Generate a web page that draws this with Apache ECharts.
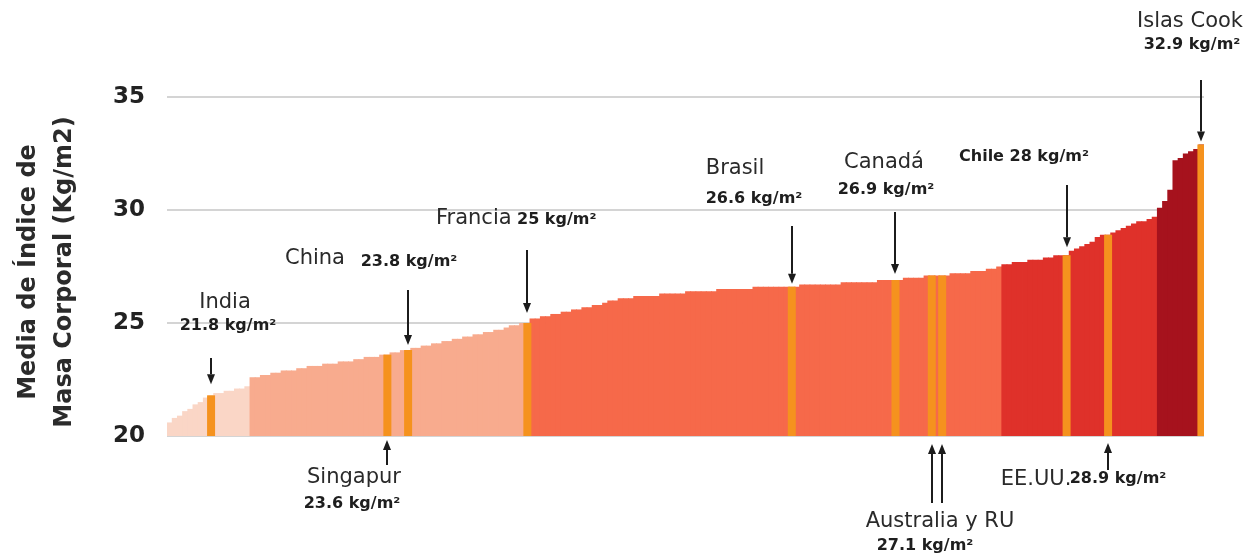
<!DOCTYPE html>
<html>
<head>
<meta charset="utf-8">
<title>Media de IMC por país</title>
<script src="https://cdn.jsdelivr.net/npm/echarts@6/dist/echarts.min.js"></script>
<style>
html,body{margin:0;padding:0;background:#fff;}
#chart1{width:1255px;height:556px;}
</style>
</head>
<body>
<div id="chart1"></div>
<script>
// IMC medio por país, ordenado de menor a mayor (200 países)
var bmi = [
    20.6,20.8,20.9,21.1,21.2,21.4,21.5,21.7,21.8,21.9,21.9,22.0,22.0,22.1,22.1,22.2,
    22.6,22.6,22.7,22.7,22.8,22.8,22.9,22.9,22.9,23.0,
    23.0,23.1,23.1,23.1,23.2,23.2,23.2,23.3,23.3,23.3,
    23.4,23.4,23.5,23.5,23.5,23.6,23.6,23.7,23.7,23.8,
    23.8,23.9,23.9,24.0,24.0,24.1,24.1,24.2,24.2,24.3,
    24.3,24.4,24.4,24.5,24.5,24.6,24.6,24.7,24.7,24.8,
    24.9,24.9,25.0,
    25.0,
    25.2,25.2,25.3,25.3,25.4,25.4,25.5,25.5,25.6,25.6,
    25.7,25.7,25.8,25.8,25.9,26.0,26.0,26.1,26.1,26.1,
    26.2,26.2,26.2,26.2,26.2,26.3,26.3,26.3,26.3,26.3,
    26.4,26.4,26.4,26.4,26.4,26.4,26.5,26.5,26.5,26.5,
    26.5,26.5,26.5,26.6,26.6,26.6,26.6,26.6,26.6,26.6,
    26.6,26.6,26.7,26.7,26.7,26.7,26.7,26.7,26.7,26.7,
    26.8,26.8,26.8,26.8,26.8,26.8,26.8,26.9,26.9,26.9,
    26.9,26.9,27.0,27.0,27.0,27.0,27.1,27.1,27.1,27.1,
    27.1,27.2,27.2,27.2,27.2,27.3,27.3,27.3,27.4,27.4,27.5,
    27.6,27.6,27.7,27.7,27.7,27.8,27.8,27.8,27.9,27.9,
    28.0,28.0,28.0,28.2,28.3,28.4,28.5,28.6,28.8,28.9,
    28.9,29.0,29.1,29.2,29.3,29.4,29.5,29.5,29.6,29.7,
    30.1,30.4,30.9,32.2,32.3,32.5,32.6,32.7,32.9
];
var ranks = bmi.map(function(v, i){ return String(i + 1); });

// tramos de color: primer y último índice de cada tramo
var bandStart = [0, 16, 69, 161, 191];
var bandEnd   = [15, 68, 160, 190, 199];
var bandColor = ['#fad6c6', '#f8ab8e', '#f6694a', '#df312a', '#a6121d'];

// países destacados (índice en la lista ordenada)
var markIdx = [8, 42, 46, 69, 120, 140, 147, 149, 173, 181, 199];
var yTicks = [20, 25, 30, 35];

// flechas: índice, dirección (1 = hacia abajo, -1 = hacia arriba), extremo fijo, separación
var arrows = [
    [8, 1, 358, 11], [46, 1, 290, 5], [69, 1, 250, 10], [120, 1, 226, 3],
    [140, 1, 212, 6], [173, 1, 185, 8], [199, 1, 80, 3],
    [42, -1, 465, 4], [147, -1, 503, 8], [149, -1, 503, 8], [181, -1, 470, 7]
];
// textos: texto, x, y, tipo (n = nombre, v = valor, b = ambos en negrita), alineación
var labels = [
    ['India', 225, 303, 'n'], ['21.8 kg/m²', 228, 326, 'v'],
    ['China', 315, 259, 'n'], ['23.8 kg/m²', 409, 262, 'v'],
    ['Francia', 436, 219, 'n', 'left'], ['25 kg/m²', 517, 220, 'v', 'left'],
    ['Brasil', 735, 169, 'n'], ['26.6 kg/m²', 754, 199, 'v'],
    ['Canadá', 884, 163, 'n'], ['26.9 kg/m²', 886, 190, 'v'],
    ['Chile 28 kg/m²', 1024, 157, 'v'],
    ['Islas Cook', 1190, 22, 'n'], ['32.9 kg/m²', 1192, 45, 'v'],
    ['Singapur', 354, 478, 'n'], ['23.6 kg/m²', 352, 504, 'v'],
    ['Australia y RU', 940, 522, 'n'], ['27.1 kg/m²', 925, 546, 'v'],
    ['EE.UU.', 1036, 480, 'n'], ['28.9 kg/m²', 1118, 479, 'v']
];

function bandColorOf(i){
    for (var b = 0; b < bandStart.length; b++) {
        if (i >= bandStart[b] && i <= bandEnd[b]) return bandColor[b];
    }
    return bandColor[0];
}

var myChart = {
    init:function(){
        var chart = echarts.init(document.getElementById('chart1'));
        var option = {
            animation: false,
            grid: {left: 167, right: 51, top: 97, bottom: 120},
            xAxis: [
                {type: 'category', data: ranks, axisLine: {show: false}, axisTick: {show: false}, axisLabel: {show: false}},
                {type: 'category', data: ranks, show: false}
            ],
            yAxis: {
                type: 'value',
                min: yTicks[0],
                max: yTicks[yTicks.length - 1],
                interval: 5,
                axisLine: {show: false},
                axisTick: {show: false},
                axisLabel: {
                    fontFamily: 'DejaVu Sans', fontWeight: 'bold', fontSize: 23,
                    color: '#222', margin: 22
                },
                splitLine: {lineStyle: {color: '#c6c6c6', width: 1.5}}
            },
            series: [
                {
                    type: 'bar',
                    barWidth: 6,
                    data: bmi.map(function(v, i){
                        return {value: v, itemStyle: {color: bandColorOf(i)}};
                    })
                },
                {
                    type: 'bar',
                    xAxisIndex: 1,
                    barWidth: 8,
                    z: 3,
                    itemStyle: {color: '#f5921e'},
                    data: bmi.map(function(v, i){
                        return markIdx.indexOf(i) >= 0 ? v : '-';
                    })
                }
            ]
        };
        chart.setOption(option);
        chart.setOption({graphic: myChart.notes(chart)});
        return chart;
    },
    notes:function(chart){
        var els = [];
        // título del eje Y
        els.push({
            type: 'text', x: 47, y: 272, rotation: Math.PI / 2,
            style: {
                text: 'Media de Índice de\nMasa Corporal (Kg/m2)',
                fontFamily: 'DejaVu Sans', fontWeight: 'bold', fontSize: 24,
                lineHeight: 36, fill: '#2b2b2b', align: 'center', verticalAlign: 'middle'
            }
        });
        var base = chart.convertToPixel({gridIndex: 0}, [0, yTicks[0]])[1];
        arrows.forEach(function(a){
            var p = chart.convertToPixel({gridIndex: 0}, [a[0], bmi[a[0]]]);
            var x = Math.round(p[0]);
            var tip = a[1] > 0 ? p[1] - a[3] : base + a[3];
            var neck = tip - a[1] * 10;
            els.push({
                type: 'line', silent: true,
                shape: {x1: x, y1: a[2], x2: x, y2: neck},
                style: {stroke: '#1c1c1c', lineWidth: 2}
            });
            els.push({
                type: 'polygon', silent: true,
                shape: {points: [[x - 4, neck], [x + 4, neck], [x, tip]]},
                style: {fill: '#1c1c1c'}
            });
        });
        labels.forEach(function(l){
            var isName = l[3] === 'n';
            els.push({
                type: 'text', x: l[1], y: l[2], silent: true,
                style: {
                    text: l[0],
                    fontFamily: 'DejaVu Sans',
                    fontWeight: isName ? 'normal' : 'bold',
                    fontSize: isName ? 21 : 16,
                    fill: isName ? '#2a2a2a' : '#1e1e1e',
                    align: l[4] || 'center',
                    verticalAlign: 'middle'
                }
            });
        });
        return els;
    }
};

var chartObj = myChart.init();
window.onresize = function(){ chartObj.resize(); };
</script>
</body>
</html>
